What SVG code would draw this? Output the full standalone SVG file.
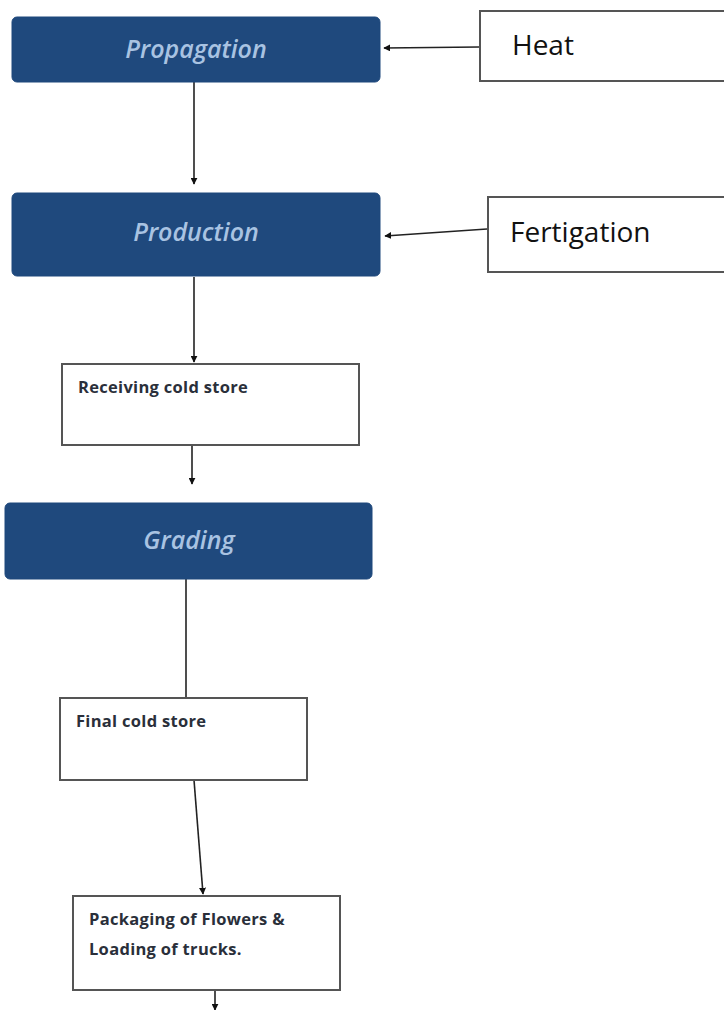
<svg xmlns="http://www.w3.org/2000/svg" width="724" height="1010" viewBox="0 0 724 1010">
<defs>
<marker id="ah" viewBox="0 0 10 10" refX="9" refY="5" markerWidth="7" markerHeight="7" markerUnits="userSpaceOnUse" orient="auto">
<path d="M0,0 L10,5 L0,10 z" fill="#111"/>
</marker>
<style>
.nv{fill:#1f497d;stroke:#1f497d;stroke-width:1}
.nt{font-family:"Open Sans","Liberation Sans",sans-serif;font-style:italic;font-weight:600;font-size:25px;fill:#a9c3e2;text-anchor:middle}
.wb{fill:#fff;stroke:#555;stroke-width:2}
.bt{font-family:"Open Sans","Liberation Sans",sans-serif;font-size:28px;fill:#111}
.st{font-family:"Open Sans","Liberation Sans",sans-serif;font-size:16.5px;font-weight:bold;fill:#2a2f3a;letter-spacing:0.3px}
.cn{stroke:#222;stroke-width:1.6;fill:none}
</style>
</defs>
<rect width="724" height="1010" fill="#fff"/>
<g id="connectors">
<path class="cn" d="M479,47 L384,48" marker-end="url(#ah)"/>
<path class="cn" d="M194,82 L194,184" marker-end="url(#ah)"/>
<path class="cn" d="M487,229 L385,236" marker-end="url(#ah)"/>
<path class="cn" d="M194,277 L194,362" marker-end="url(#ah)"/>
<path class="cn" d="M192,445 L192,484" marker-end="url(#ah)"/>
<path class="cn" d="M186,579 L186,697"/>
<path class="cn" d="M194,780 L203,894" marker-end="url(#ah)"/>
<path class="cn" d="M215,990 L215,1010" marker-end="url(#ah)"/>
</g>
<g id="propagation">
<rect class="nv" x="12" y="17" width="368" height="65" rx="5"/>
<text class="nt" x="196" y="58">Propagation</text>
</g>
<g id="heat">
<rect class="wb" x="480" y="11" width="250" height="70"/>
<text class="bt" x="512" y="55">Heat</text>
</g>
<g id="production">
<rect class="nv" x="12" y="193" width="368" height="83" rx="5"/>
<text class="nt" x="196" y="241">Production</text>
</g>
<g id="fertigation">
<rect class="wb" x="488" y="197" width="242" height="75"/>
<text class="bt" x="510" y="242">Fertigation</text>
</g>
<g id="receiving">
<rect class="wb" x="62" y="364" width="297" height="81"/>
<text class="st" x="78" y="393">Receiving cold store</text>
</g>
<g id="grading">
<rect class="nv" x="5" y="503" width="367" height="76" rx="5"/>
<text class="nt" x="189" y="549">Grading</text>
</g>
<g id="final">
<rect class="wb" x="60" y="698" width="247" height="82"/>
<text class="st" x="76" y="727">Final cold store</text>
</g>
<g id="packaging">
<rect class="wb" x="73" y="896" width="267" height="94"/>
<text class="st" x="89" y="925">Packaging of Flowers &amp;</text>
<text class="st" x="89" y="955">Loading of trucks.</text>
</g>
</svg>
